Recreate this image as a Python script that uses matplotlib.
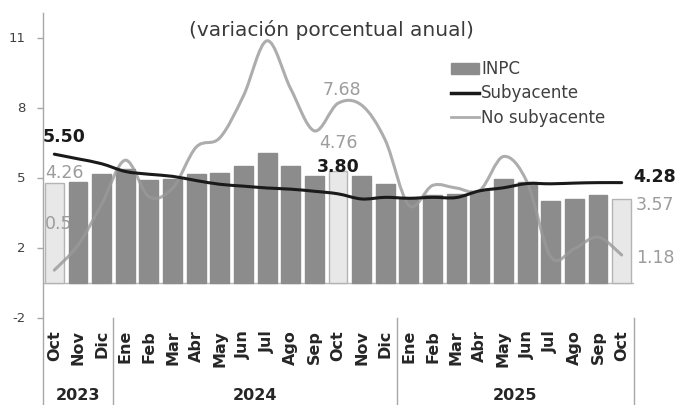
import numpy as np
import matplotlib
matplotlib.use("Agg")
import matplotlib.pyplot as plt
from matplotlib.path import Path
from matplotlib.patches import PathPatch, Patch
from matplotlib.lines import Line2D
from matplotlib.transforms import blended_transform_factory

# --- datos (variación porcentual anual) ---
meses = ['Oct', 'Nov', 'Dic',
         'Ene', 'Feb', 'Mar', 'Abr', 'May', 'Jun', 'Jul', 'Ago', 'Sep', 'Oct', 'Nov', 'Dic',
         'Ene', 'Feb', 'Mar', 'Abr', 'May', 'Jun', 'Jul', 'Ago', 'Sep', 'Oct']
anios = ['2023', '2024', '2025']

inpc = [4.26, 4.32, 4.66, 4.88, 4.40, 4.42, 4.65, 4.69, 4.98, 5.57, 4.99, 4.58, 4.76,
        4.55, 4.21, 3.59, 3.77, 3.80, 3.93, 4.42, 4.32, 3.51, 3.57, 3.76, 3.57]
subyacente = [5.50, 5.30, 5.09, 4.76, 4.64, 4.55, 4.37, 4.21, 4.13, 4.05, 4.00, 3.91, 3.80,
              3.58, 3.65, 3.61, 3.65, 3.64, 3.93, 4.06, 4.24, 4.23, 4.26, 4.28, 4.28]
no_subyacente = [0.53, 1.60, 3.35, 5.24, 3.68, 4.04, 5.80, 6.20, 8.00, 10.36, 8.30, 6.50, 7.68,
                 7.60, 6.10, 3.30, 4.16, 4.05, 3.95, 5.40, 4.30, 1.10, 1.45, 1.95, 1.18]

# --- colores ---
GRIS_BARRA = '#8c8c8c'
GRIS_CLARO = '#e8e8e8'
GRIS_LINEA = '#999999'
NEGRO = '#1a1a1a'
GRIS_TEXTO = '#9c9c9c'
GRIS_EJE = '#a8a8a8'

plt.rcParams['font.family'] = ['DejaVu Sans']


def curva_suave(x, y):
    # línea suavizada tipo Excel (bezier que pasa por cada punto)
    pts = np.column_stack([x, y]).astype(float)
    n = len(pts)
    verts = [pts[0]]
    codes = [Path.MOVETO]
    for i in range(n - 1):
        p0 = pts[i - 1] if i > 0 else pts[i]
        p1 = pts[i]
        p2 = pts[i + 1]
        p3 = pts[i + 2] if i + 2 < n else pts[i + 1]
        verts += [p1 + (p2 - p0) / 6, p2 - (p3 - p1) / 6, p2]
        codes += [Path.CURVE4] * 3
    return Path(verts, codes)


W, H = 679, 405
fig = plt.figure(figsize=(W / 100, H / 100), dpi=100)
ax = fig.add_axes([42.5 / W, (H - 317.5) / H, 591 / W, (317.5 - 13) / H])

x = np.arange(len(meses))
claro = np.array([m == 'Oct' for m in meses])
inpc_arr = np.array(inpc)
# barras de octubre en gris claro, el resto en gris oscuro
ax.bar(x[claro], inpc_arr[claro], width=0.8, color=GRIS_CLARO, edgecolor='#b4b4b4',
       linewidth=1, zorder=1.2)
ax.bar(x[~claro], inpc_arr[~claro], width=0.8, color=GRIS_BARRA, edgecolor=GRIS_BARRA,
       linewidth=1, zorder=2)

ax.add_patch(PathPatch(curva_suave(x, no_subyacente), fill=False, edgecolor=GRIS_LINEA,
                       lw=2.2, alpha=0.8, zorder=3, capstyle='round'))
ax.add_patch(PathPatch(curva_suave(x, subyacente), fill=False, edgecolor=NEGRO,
                       lw=2.2, zorder=4, capstyle='round'))

ax.axhline(0, color='#b8b8b8', lw=1, zorder=1)
ax.set_xlim(-0.5, len(meses) - 0.5)
ax.set_ylim(-1.5, 11.55)

for s in ['top', 'right', 'bottom', 'left']:
    ax.spines[s].set_visible(False)
ax.set_xticks([])
ax.set_yticks([-1.5, 1.5, 4.5, 7.5, 10.5], labels=['-2', '2', '5', '8', '11'])
ax.tick_params(axis='y', length=4, width=1, color=GRIS_EJE, labelsize=9.5,
               labelcolor='#404040', pad=8)

# eje de categorías abajo
trans = blended_transform_factory(ax.transData, ax.transAxes)
inicios = [0] + [i for i, m in enumerate(meses) if m == 'Ene'] + [len(meses)]
for b in inicios:
    ax.plot([b - 0.5, b - 0.5], [-0.3, 1.0 if b == 0 else 0], transform=trans,
            color=GRIS_EJE, lw=1, clip_on=False)
for i, m in enumerate(meses):
    ax.text(i, -0.041, m, transform=trans, rotation=90, ha='center', va='top',
            fontsize=11.5, fontweight='bold', color='#262626')
for k, a in enumerate(anios):
    centro = (inicios[k] + inicios[k + 1] - 1) / 2
    ax.text(centro, -0.257, a, transform=trans, ha='center', va='center',
            fontsize=11.5, fontweight='bold', color='#262626')

# etiquetas de valores
def etiqueta(i, serie, dx, dy, color, negrita=False, z=6):
    ax.annotate(f"{serie[i]:.2f}", xy=(i, serie[i]), xytext=(dx, dy),
                textcoords='offset points', ha='center', va='center', fontsize=12.5,
                color=color, fontweight='bold' if negrita else 'normal', zorder=z)

etiqueta(0, subyacente, 7.2, 12.4, NEGRO, True)
etiqueta(0, inpc, 7.2, 7.3, GRIS_TEXTO)
etiqueta(0, no_subyacente, 7.2, 33, GRIS_TEXTO, z=1.5)
etiqueta(12, no_subyacente, 3, 9.6, GRIS_TEXTO)
etiqueta(12, inpc, 0, 20.7, GRIS_TEXTO)
etiqueta(12, subyacente, 0, 19.5, NEGRO, True)
etiqueta(24, subyacente, 24, 4.3, NEGRO, True)
etiqueta(24, inpc, 24, -4.2, GRIS_TEXTO)
etiqueta(24, no_subyacente, 24, -2.4, GRIS_TEXTO)

fig.text(331 / W, 1 - 30 / H, '(variación porcentual anual)', ha='center', va='center',
         fontsize=14.5, color='#3a3a3a')

handles = [Patch(facecolor=GRIS_BARRA, edgecolor=GRIS_BARRA),
           Line2D([], [], color=NEGRO, lw=2.5),
           Line2D([], [], color=GRIS_LINEA, lw=2, alpha=0.8)]
fig.legend(handles, ['INPC', 'Subyacente', 'No subyacente'], loc='upper left',
           bbox_to_anchor=(451 / W, 1 - 60 / H), frameon=False, fontsize=12,
           handlelength=1.65, handleheight=0.65, handletextpad=0.15, labelspacing=0.38,
           borderpad=0, borderaxespad=0, labelcolor='#404040')

fig.savefig('out.png', dpi=100)
